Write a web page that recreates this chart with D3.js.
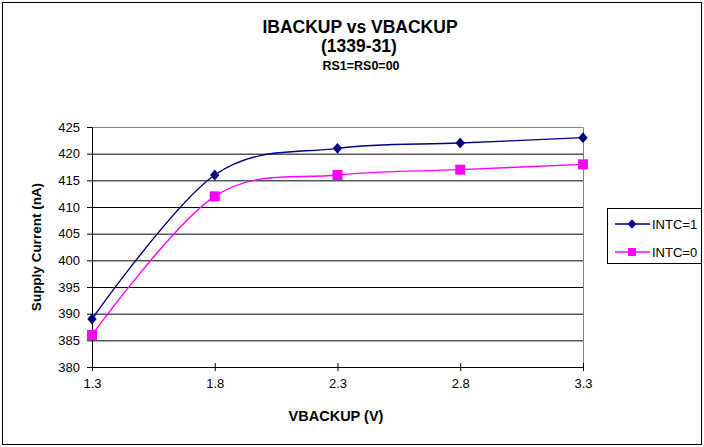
<!DOCTYPE html>
<meta charset="utf-8">
<style>
body { margin: 0; background: #fff; }
text { font-family: "Liberation Sans", Arial, sans-serif; }
.grid line { stroke: #000; stroke-width: 1px; }
.grid path { display: none; }
</style>
<html>
<body>
<div id="chart"></div>
<script src="https://d3js.org/d3.v7.min.js"></script>
<script>
// data
var voltage = [1.3, 1.8, 2.3, 2.8, 3.3];
var intc1 = [389, 416, 421, 422, 423];
var intc0 = [386, 412, 416, 417, 418];
var yTicks = [380, 385, 390, 395, 400, 405, 410, 415, 420, 425];
var seriesNames = ["INTC=1", "INTC=0"];

var W = 704, H = 447;
var margin = {top: 127, right: 121, bottom: 80, left: 92},
    width = W - margin.left - margin.right,
    height = H - margin.top - margin.bottom;

var svg = d3.select("#chart").append("svg")
    .attr("width", W).attr("height", H);

// outer chart border
svg.append("rect")
    .attr("x", 2.5).attr("y", 2.5)
    .attr("width", W - 5).attr("height", H - 5)
    .attr("fill", "#fff").attr("stroke", "#000");

var g = svg.append("g")
    .attr("transform", "translate(" + margin.left + "," + margin.top + ")");

var x = d3.scaleLinear().domain([1.3, 3.3]).range([0, width]);
var y = d3.scaleLinear().domain([380, 425]).range([height, 0]);

// gridlines
g.append("g").attr("class", "grid")
  .call(d3.axisLeft(y).tickValues(yTicks.slice(1, -1)).tickSize(-width).tickFormat(""));

// plot area border (top and right)
g.append("path")
    .attr("d", "M0.5,0.5H" + (width + 0.5) + "V" + height)
    .attr("fill", "none").attr("stroke", "#808080");

// y axis
var yAxis = g.append("g")
    .call(d3.axisLeft(y).tickValues(yTicks).tickSize(5).tickPadding(7).tickFormat(d3.format("d")));
yAxis.selectAll("path, line").attr("stroke", "#000");
yAxis.selectAll("text").style("font-size", "13px").attr("fill", "#000");

// x axis
var xAxis = g.append("g")
    .attr("transform", "translate(0," + height + ")")
    .call(d3.axisBottom(x).tickValues(voltage).tickSize(4).tickPadding(8).tickFormat(d3.format(".1f")));
xAxis.selectAll("path, line").attr("stroke", "#000");
xAxis.selectAll("line").attr("y1", -4);
xAxis.selectAll("text").style("font-size", "13px").attr("fill", "#000");

// lines
var line = d3.line()
    .x(function(d, i) { return x(voltage[i]); })
    .y(function(d) { return y(d); })
    .curve(d3.curveCatmullRom.alpha(0));

g.append("path").datum(intc1)
    .attr("d", line).attr("fill", "none")
    .attr("stroke", "#000080").attr("stroke-width", 1.4);
g.append("path").datum(intc0)
    .attr("d", line).attr("fill", "none")
    .attr("stroke", "#FF00FF").attr("stroke-width", 1.4);

// markers
var diamond = d3.symbol().type(d3.symbolDiamond).size(42);
g.selectAll(".m1").data(intc1).enter().append("path")
    .attr("d", diamond)
    .attr("transform", function(d, i) { return "translate(" + x(voltage[i]) + "," + y(d) + ") scale(1.35,0.9)"; })
    .attr("fill", "#000080");
g.selectAll(".m0").data(intc0).enter().append("rect")
    .attr("x", function(d, i) { return x(voltage[i]) - 5; })
    .attr("y", function(d) { return y(d) - 5; })
    .attr("width", 10).attr("height", 10)
    .attr("fill", "#FF00FF");

// titles
svg.append("text").attr("x", 360).attr("y", 33)
    .attr("text-anchor", "middle").style("font-size", "17.5px").style("font-weight", "bold")
    .text("IBACKUP vs VBACKUP");
svg.append("text").attr("x", 359).attr("y", 52)
    .attr("text-anchor", "middle").style("font-size", "17.5px").style("font-weight", "bold")
    .text("(1339-31)");
svg.append("text").attr("x", 361).attr("y", 70)
    .attr("text-anchor", "middle").style("font-size", "12.5px").style("font-weight", "bold")
    .text("RS1=RS0=00");

// axis titles
svg.append("text").attr("x", 336).attr("y", 421)
    .attr("text-anchor", "middle").style("font-size", "14.5px").style("font-weight", "bold")
    .text("VBACKUP (V)");
svg.append("text")
    .attr("transform", "translate(41," + (margin.top + height / 2) + ") rotate(-90)")
    .attr("text-anchor", "middle").style("font-size", "13.5px").style("font-weight", "bold")
    .text("Supply Current (nA)");

// legend
var lg = svg.append("g").attr("transform", "translate(607,208)");
lg.append("rect").attr("x", 0.5).attr("y", 0.5).attr("width", 94).attr("height", 55)
    .attr("fill", "#fff").attr("stroke", "#000");
var colors = ["#000080", "#FF00FF"];
seriesNames.forEach(function(name, i) {
    var cy = 16 + i * 28;
    lg.append("line").attr("x1", 8).attr("x2", 43).attr("y1", cy).attr("y2", cy)
        .attr("stroke", colors[i]).attr("stroke-width", 1.4);
    if (i === 0) {
        lg.append("path").attr("d", diamond)
            .attr("transform", "translate(25," + cy + ") scale(1.2,0.8)").attr("fill", colors[i]);
    } else {
        lg.append("rect").attr("x", 21).attr("y", cy - 4).attr("width", 8).attr("height", 8)
            .attr("fill", colors[i]);
    }
    lg.append("text").attr("x", 45).attr("y", cy).attr("dy", "0.35em")
        .style("font-size", "13px").text(name);
});
</script>
</body>
</html>
